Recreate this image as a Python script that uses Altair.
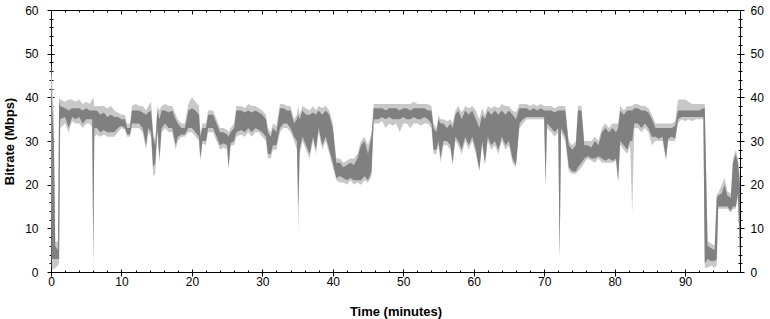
import altair as alt
import pandas as pd

# time in minutes
time_min = [0.0, 0.1, 0.4, 0.6, 1.0, 1.15, 1.3, 2.0, 2.5, 3.0,
            3.5, 4.0, 4.5, 5.0, 5.5, 5.85, 6.0, 6.15, 6.5, 7.0,
            7.5, 8.0, 8.5, 9.0, 9.5, 10.0, 10.5, 10.8, 11.2, 11.5,
            12.0, 12.5, 13.0, 13.5, 13.8, 14.2, 14.5, 14.8, 15.1, 15.4,
            15.7, 16.2, 16.7, 17.2, 17.7, 18.0, 18.5, 19.0, 19.5, 20.0,
            20.5, 21.0, 21.2, 21.5, 22.0, 22.3, 23.0, 23.5, 24.0, 24.5,
            25.0, 25.2, 25.5, 26.0, 26.3, 27.0, 27.5, 28.0, 28.5, 29.0,
            29.5, 30.0, 30.5, 30.8, 31.2, 31.5, 32.0, 32.5, 33.0, 33.5,
            34.0, 34.5, 34.9, 35.1, 35.3, 35.7, 36.2, 36.7, 37.2, 37.6,
            38.0, 38.5, 39.0, 39.5, 40.0, 40.5, 41.0, 41.5, 42.0, 42.5,
            43.0, 43.5, 44.0, 44.5, 45.0, 45.5, 45.8, 46.5, 47.0, 47.5,
            48.0, 48.5, 49.0, 49.5, 50.0, 50.5, 51.0, 51.5, 52.0, 52.5,
            53.0, 53.5, 54.0, 54.3, 54.7, 55.0, 55.3, 55.7, 56.2, 56.7,
            57.0, 57.4, 57.8, 58.3, 58.8, 59.3, 59.8, 60.3, 60.8, 61.2,
            61.6, 62.0, 62.5, 63.0, 63.5, 64.0, 64.5, 65.0, 65.5, 66.0,
            66.5, 67.0, 67.5, 68.0, 68.5, 69.0, 69.5, 70.0, 70.2, 70.4,
            71.0, 71.5, 72.0, 72.2, 72.4, 73.0, 73.5, 74.0, 74.5, 74.8,
            75.3, 75.7, 76.2, 76.7, 77.2, 77.7, 78.2, 78.7, 79.2, 79.7,
            80.2, 80.5, 80.8, 81.3, 81.8, 82.2, 82.5, 82.8, 83.3, 83.8,
            84.3, 84.8, 85.3, 85.8, 86.3, 86.8, 87.3, 87.6, 88.1, 88.6,
            89.0, 89.5, 90.0, 90.5, 91.0, 91.5, 92.0, 92.6, 92.8, 93.2,
            93.7, 94.2, 94.5, 94.7, 95.2, 95.6, 96.0, 96.5, 96.8, 97.2,
            97.5, 97.8]

# dark band (typical bitrate range, Mbps)
dark_lo = [36, 3, 3, 3, 3, 3, 35, 35.5, 33, 35.5,
           35, 35.5, 34, 35, 35, 35, 3, 33, 33, 32,
           32.5, 32, 32, 32, 33, 33.5, 33, 31.5, 31.5, 34,
           34, 34, 33, 29, 33, 32, 24, 25, 33, 26,
           33, 34, 33, 33, 29, 31, 31.5, 31.5, 33, 33,
           32, 31, 26, 30, 30, 33, 33, 31, 29, 29.5,
           29, 24, 29.5, 30, 32, 32.5, 32, 33, 32, 33,
           32.5, 32, 31, 27, 27, 29, 29, 33, 34, 34,
           33, 31, 30, 15, 28, 31, 29, 27, 31, 28,
           33, 29, 31, 28, 25, 21.5, 22, 21.5, 21, 21.5,
           21, 21, 21, 22, 21, 23, 35, 35, 35.5, 35,
           35.5, 35, 35, 35, 35.5, 35, 35, 35.5, 35, 35,
           35.5, 35, 34, 28, 28, 30, 26, 30, 30, 29,
           25, 31, 30, 28, 31, 29, 31, 28, 23.5, 30,
           25, 31, 29, 30, 28, 31, 29, 30, 26, 24.5,
           34, 35, 35.5, 35.5, 35.5, 35.5, 35.5, 35.5, 20, 34,
           33, 32, 33, 3.5, 33, 31, 24, 23, 23, 24,
           25, 26, 26.5, 26, 26, 26.5, 26, 25.5, 26, 25.5,
           26, 21, 30, 29, 28, 30, 30, 34, 34, 33,
           34, 33, 31, 31, 30.5, 31, 26, 30.5, 31, 30.5,
           35, 35.5, 35.5, 35.5, 35.5, 35.5, 35.5, 35.5, 2, 3,
           2.5, 2.5, 3, 15, 15, 15, 15, 14, 15, 15,
           18, 4]

dark_hi = [44, 40, 30, 6, 5, 39, 38, 37.5, 37, 37.5,
           37.5, 37.5, 37, 37.5, 37, 37, 37, 37, 37, 36,
           36.5, 35.5, 36, 35.5, 35.5, 35, 35, 33, 33, 37,
           37, 37, 36.5, 36, 36.5, 37, 31, 29, 37, 35,
           37, 37, 36.5, 37, 35, 34, 33, 33, 37, 37.5,
           37, 36, 31, 33, 33, 36, 36, 34, 32, 32,
           31.5, 31, 32, 33, 37, 37, 36.5, 37, 36.5, 37,
           36.5, 36, 35, 32, 31, 33, 32, 37.5, 37.5, 37,
           37, 34, 35, 36, 35, 37, 36, 36, 36.5, 36,
           37, 36, 37, 36, 33, 25, 25, 24, 24.5, 25,
           24.5, 26, 29, 30, 27, 31, 37.5, 37.5, 37.5, 37,
           37.5, 37.5, 37.5, 37, 37.5, 37.5, 37, 37.5, 37.5, 37.5,
           37.5, 37, 37, 33, 32, 35, 34, 34, 33, 34,
           33, 36, 37, 35, 37, 36, 37, 35, 33, 36,
           35, 37, 36, 37, 36, 37, 36, 37, 36, 35,
           37.5, 37.5, 37.5, 37, 37.5, 37, 37.5, 37, 37, 37,
           37, 36.5, 37, 37, 37, 37, 29, 28, 29, 37,
           37, 29, 29, 28.5, 30, 29, 32, 33, 32, 33,
           32, 33, 37, 36, 37, 37, 37, 37.5, 37.5, 37,
           37, 36.5, 35, 33, 33, 33, 33, 33, 33, 33.5,
           37, 37, 37, 37, 37, 37, 37, 37.5, 37.5, 6,
           5.5, 5, 17, 17.5, 18, 20, 17.5, 17, 25, 27,
           25, 20]

# light band (peak bitrate range, Mbps)
light_lo = [30, 1, 0.5, 1, 1.5, 2, 33, 34, 32, 34.5,
            34, 34, 33, 34, 34, 33, 0, 31, 31.5, 31,
            31.5, 31, 31, 31, 32, 33, 32.5, 31, 31, 33,
            33, 33, 32, 28, 32, 31, 22, 22.5, 32, 25,
            32, 33, 32, 32, 28, 30, 31, 31, 32, 32,
            31, 30, 25.5, 29.5, 29, 32, 32, 30, 28, 28.5,
            28, 23.5, 29, 29, 31, 31.5, 31, 32, 31, 32,
            32, 31, 30, 26, 26, 28, 28, 32, 33, 33,
            32, 30, 28, 9, 27, 30, 28, 26, 30, 27,
            32, 28, 30, 27, 24, 21, 20.5, 20.5, 20, 21,
            20, 20.5, 20, 21, 20.5, 22, 34, 34, 34.5, 33,
            34, 33.5, 34, 32, 34, 34, 33, 34, 34, 33.5,
            34, 34, 33, 27, 27, 29, 25, 29, 29, 28,
            24.5, 30, 29, 27, 30, 28, 30, 27, 23, 29,
            24.5, 30, 28, 29, 27, 30, 28, 29, 25, 24,
            33, 34, 35, 35, 35, 35, 35, 35, 19.5, 33,
            32, 31, 32, 3, 32, 30, 23, 22.5, 22.5, 23,
            24, 25, 26, 25.5, 25, 26, 25, 25, 25, 25,
            25.5, 20.5, 29, 28, 27, 29, 13.5, 33, 33, 32,
            33, 32, 29, 30, 30, 30, 25.5, 30, 30, 30,
            34, 35, 34.5, 35, 34.5, 35, 35, 35, 1, 1,
            1.5, 1, 1.5, 14.5, 14.5, 14.5, 14.5, 13.5, 14.5, 14.5,
            17, 3]

light_hi = [48, 45, 36, 7, 7, 40, 39.5, 39, 39.5, 39.5,
            39, 39.5, 38.5, 39, 38.5, 39.5, 40, 38, 38, 38,
            38, 37.5, 38, 37, 36.5, 36, 36, 34, 34, 38,
            38.5, 38, 38, 37, 38, 39, 32, 30, 38, 37,
            38, 38.5, 38, 38, 36, 35, 34, 34, 38.5, 40,
            39, 38, 32, 34, 34, 37, 37, 35, 33, 33,
            32.5, 32, 33, 34, 38, 38, 37.5, 38.5, 38, 38,
            37.5, 37, 36, 33, 32, 34, 33.5, 38.5, 38.5, 38,
            38, 35, 36, 38, 36, 38, 37.5, 37, 38, 37,
            38, 37.5, 38, 37, 34, 26, 26, 25, 25.5, 26,
            26, 27, 30, 31, 29, 32, 38.5, 38.5, 38.5, 38.5,
            38.5, 38.5, 38.5, 38.5, 38.5, 38.5, 38.5, 39, 38.5, 38.5,
            38.5, 38.5, 38, 34, 33, 36, 35, 35, 34.5, 35,
            34, 37, 38, 36.5, 38, 37.5, 38, 37, 35, 37.5,
            36, 38, 37.5, 38, 37.5, 38.5, 38, 38, 37, 36.5,
            38.5, 38.5, 38.5, 38, 38.5, 38, 38.5, 38, 38, 38,
            38, 37.5, 38, 38, 38, 38, 30, 29, 30, 38,
            38, 30, 30, 30, 31, 30, 33, 34, 33, 34,
            34, 34, 38, 37, 38, 38, 38, 38.5, 38.5, 38,
            38, 37.5, 36, 34, 34, 34, 34, 34, 34, 34.5,
            39.5, 39.5, 39.5, 39, 38.5, 38.5, 38.5, 38.5, 38.5, 7,
            6.5, 6, 18, 18, 20, 21.5, 18.5, 18, 26, 28,
            26, 22]

x_major = [0, 10, 20, 30, 40, 50, 60, 70, 80, 90]
x_minor = [2, 4, 6, 8, 12, 14, 16, 18, 22, 24, 26, 28, 32, 34, 36, 38,
           42, 44, 46, 48, 52, 54, 56, 58, 62, 64, 66, 68, 72, 74, 76, 78,
           82, 84, 86, 88, 92, 94, 96]
y_major = [0, 10, 20, 30, 40, 50, 60]
y_minor = [2, 4, 6, 8, 12, 14, 16, 18, 22, 24, 26, 28, 32, 34, 36, 38,
           42, 44, 46, 48, 52, 54, 56, 58]

assert len(time_min) == len(dark_lo) == len(dark_hi) == len(light_lo) == len(light_hi)

df = pd.DataFrame({"t": time_min, "dlo": dark_lo, "dhi": dark_hi,
                   "llo": light_lo, "lhi": light_hi})

FONT = "Liberation Sans"
xs = alt.Scale(domain=[0, 97.8], nice=False, zero=False)
ys = alt.Scale(domain=[0, 60], nice=False, zero=False)


def tick_axis(orient, values, offset, size):
    return alt.Axis(orient=orient, values=values, offset=offset, tickSize=size,
                    tickColor="black", tickWidth=1, domain=False, labels=False,
                    grid=False, title=None)


bottom_major = alt.Axis(orient="bottom", values=x_major, offset=-3, tickSize=7,
                        tickColor="black", tickWidth=1, domain=False, grid=False,
                        labelFont=FONT, labelFontSize=12, labelColor="black",
                        labelPadding=0, labelFlush=False,
                        title="Time (minutes)", titleFont=FONT, titleFontSize=13,
                        titleFontWeight="bold", titleColor="black", titlePadding=18)
left_major = alt.Axis(orient="left", values=y_major, offset=-3, tickSize=7,
                      tickColor="black", tickWidth=1, domain=False, grid=False,
                      labelFont=FONT, labelFontSize=12, labelColor="black",
                      labelPadding=9, labelFlush=False,
                      title="Bitrate (Mbps)", titleFont=FONT, titleFontSize=13,
                      titleFontWeight="bold", titleColor="black", titlePadding=8)
right_major = alt.Axis(orient="right", values=y_major, offset=-3, tickSize=7,
                       tickColor="black", tickWidth=1, domain=False, grid=False,
                       labelFont=FONT, labelFontSize=12, labelColor="black",
                       labelPadding=6, labelFlush=False, title=None)

light = alt.Chart(df).mark_area(color="#c8c8c8", opacity=1).encode(
    x=alt.X("t:Q", scale=xs, axis=bottom_major),
    y=alt.Y("llo:Q", scale=ys, axis=left_major),
    y2="lhi:Q",
)
dark = alt.Chart(df).mark_area(color="#808080", opacity=1).encode(
    x=alt.X("t:Q", scale=xs, axis=tick_axis("bottom", x_minor, -2, 2)),
    y=alt.Y("dlo:Q", scale=ys, axis=tick_axis("left", y_minor, -2, 4)),
    y2="dhi:Q",
)
axes_a = alt.Chart(df).mark_point(opacity=0).encode(
    x=alt.X("t:Q", scale=xs, axis=tick_axis("top", x_major, -4, 4)),
    y=alt.Y("dlo:Q", scale=ys, axis=right_major),
)
axes_b = alt.Chart(df).mark_point(opacity=0).encode(
    x=alt.X("t:Q", scale=xs, axis=tick_axis("top", x_minor, -2, 2)),
    y=alt.Y("dlo:Q", scale=ys, axis=tick_axis("right", y_minor, -2, 4)),
)

chart = (
    alt.layer(light, dark, axes_a, axes_b)
    .resolve_axis(x="independent", y="independent")
    .properties(width=689, height=262,
                autosize=alt.AutoSizeParams(type="none"),
                padding={"left": 51, "top": 10, "right": 30, "bottom": 47},
                background="white")
    .configure_view(stroke="black", strokeWidth=1)
)

chart.save("out.html", embed_options={"renderer": "svg", "actions": False})
